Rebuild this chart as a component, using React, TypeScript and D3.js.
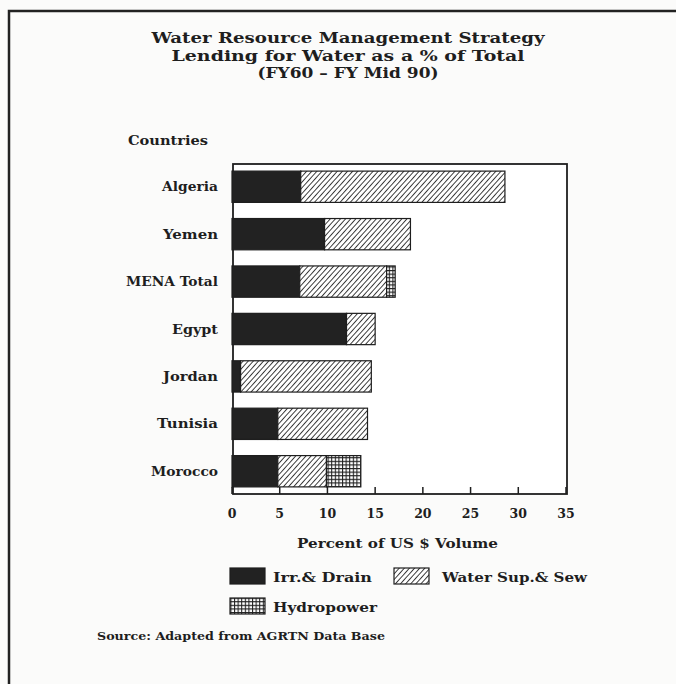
import React from "react";
import * as d3 from "d3";

const countries = ["Algeria", "Yemen", "MENA Total", "Egypt", "Jordan", "Tunisia", "Morocco"];
const irrDrain = [7.2, 9.7, 7.1, 12.0, 0.9, 4.8, 4.8];
const waterSup = [21.4, 9.0, 9.1, 3.0, 13.7, 9.4, 5.1];
const hydropower = [0, 0, 0.9, 0, 0, 0, 3.6];
const xTicks = [0, 5, 10, 15, 20, 25, 30, 35];
const seriesNames = ["Irr.& Drain", "Water Sup.& Sew", "Hydropower"];
const titleLines = [
  "Water Resource Management Strategy",
  "Lending for Water as a % of Total",
  "(FY60 \u2013 FY Mid 90)",
];

const W = 676;
const H = 684;
const FONT = "'DejaVu Serif', serif";
const INK = "#1e1e1e";

// measured widths of labels in the reference (for a typewriter-like spread)
const titleWidths = [393, 353, 181];
const countryWidths = [56, 55, 92, 46, 55, 61, 67];
const legendWidths = [99, 145, 104];

export default function App() {
  const plot = { left: 233, right: 567, top: 164, bottom: 494 };
  const x = d3.scaleLinear().domain([0, 35]).range([232, 566]);
  const y = d3
    .scaleBand<string>()
    .domain(countries)
    .range([plot.top, plot.bottom])
    .paddingInner(0.34)
    .paddingOuter(0.15);

  const rows = countries.map((c, i) => ({
    country: c,
    irr: irrDrain[i],
    water: waterSup[i],
    hydro: hydropower[i],
  }));
  const stack = d3.stack<any>().keys(["irr", "water", "hydro"])(rows);
  const fills = ["url(#solid)", "url(#hatch)", "url(#grid)"];

  return (
    <svg
      width={W}
      height={H}
      style={{ position: "absolute", left: 0, top: 0, background: "#fbfbfa" }}
    >
      <defs>
        <pattern id="solid" width="4" height="4" patternUnits="userSpaceOnUse">
          <rect width="4" height="4" fill="#222" />
        </pattern>
        <pattern
          id="hatch"
          width="3.8"
          height="3.8"
          patternUnits="userSpaceOnUse"
          patternTransform="rotate(42)"
        >
          <rect width="3.8" height="3.8" fill="#fff" />
          <line x1="0" y1="0" x2="0" y2="3.8" stroke={INK} strokeWidth="1.7" />
        </pattern>
        <pattern id="grid" width="3.6" height="3.6" patternUnits="userSpaceOnUse">
          <rect width="3.6" height="3.6" fill="#fff" />
          <path d="M0,0.5H3.6M0.5,0V3.6" stroke={INK} strokeWidth="1.1" />
        </pattern>
      </defs>
      <rect width={W} height={H} fill="#fbfbfa" />
      {/* page frame */}
      <path d={`M9,${H}V11H${W}`} fill="none" stroke="#222" strokeWidth="2.5" />

      {/* title */}
      {titleLines.map((t, i) => (
        <text
          key={i}
          x={348}
          y={43 + i * 17.5}
          textAnchor="middle"
          fontFamily={FONT}
          fontWeight="bold"
          fontSize={15}
          textLength={titleWidths[i]}
          lengthAdjust="spacingAndGlyphs"
          fill={INK}
        >
          {t}
        </text>
      ))}

      <text
        x={128}
        y={145}
        fontFamily={FONT}
        fontWeight="bold"
        fontSize={13}
        textLength={80}
        lengthAdjust="spacingAndGlyphs"
        fill={INK}
      >
        Countries
      </text>

      {/* plot frame */}
      <rect
        x={plot.left}
        y={plot.top}
        width={plot.right - plot.left}
        height={plot.bottom - plot.top}
        fill="#fff"
        stroke={INK}
        strokeWidth={1.8}
      />

      {/* bars */}
      {stack.map((layer, li) =>
        layer.map((d, i) =>
          d[1] - d[0] > 0 ? (
            <rect
              key={`${li}-${i}`}
              x={x(d[0])}
              y={y(countries[i])}
              width={x(d[1]) - x(d[0])}
              height={y.bandwidth()}
              fill={fills[li]}
              stroke={INK}
              strokeWidth={1.2}
            />
          ) : null
        )
      )}

      {/* category labels */}
      {countries.map((c, i) => (
        <text
          key={c}
          x={218 - countryWidths[i]}
          y={(y(c) as number) + y.bandwidth() / 2}
          dy="0.35em"
          fontFamily={FONT}
          fontWeight="bold"
          fontSize={13}
          textLength={countryWidths[i]}
          lengthAdjust="spacingAndGlyphs"
          fill={INK}
        >
          {c}
        </text>
      ))}

      {/* x ticks */}
      {xTicks.map((t) => (
        <g key={t}>
          <line x1={x(t)} x2={x(t)} y1={plot.bottom} y2={plot.bottom - 7} stroke={INK} strokeWidth={1.5} />
          <text
            x={x(t)}
            y={518}
            textAnchor="middle"
            fontFamily={FONT}
            fontWeight="bold"
            fontSize={12.5}
            fill={INK}
          >
            {t}
          </text>
        </g>
      ))}

      <text
        x={297}
        y={548}
        fontFamily={FONT}
        fontWeight="bold"
        fontSize={13}
        textLength={201}
        lengthAdjust="spacingAndGlyphs"
        fill={INK}
      >
        Percent of US $ Volume
      </text>

      {/* legend */}
      {[
        { bx: 230, by: 568, tx: 273, ty: 582, f: fills[0] },
        { bx: 394, by: 568, tx: 442, ty: 582, f: fills[1] },
        { bx: 230, by: 598, tx: 273, ty: 612, f: fills[2] },
      ].map((l, i) => (
        <g key={i}>
          <rect x={l.bx} y={l.by} width={35} height={16} fill={l.f} stroke={INK} strokeWidth={1.2} />
          <text
            x={l.tx}
            y={l.ty}
            fontFamily={FONT}
            fontWeight="bold"
            fontSize={13}
            textLength={legendWidths[i]}
            lengthAdjust="spacingAndGlyphs"
            fill={INK}
          >
            {seriesNames[i]}
          </text>
        </g>
      ))}

      <text
        x={97}
        y={640}
        fontFamily={FONT}
        fontWeight="bold"
        fontSize={10.5}
        textLength={288}
        lengthAdjust="spacingAndGlyphs"
        fill={INK}
      >
        Source: Adapted from AGRTN Data Base
      </text>
    </svg>
  );
}
